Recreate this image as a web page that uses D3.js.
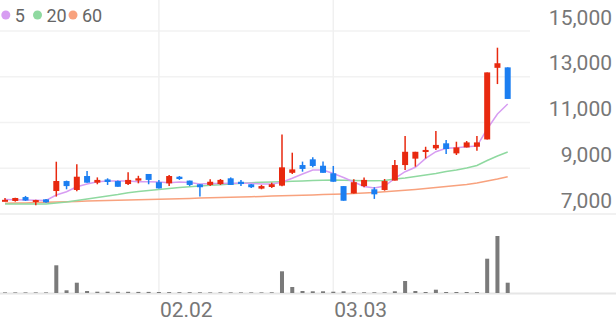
<!DOCTYPE html>
<html>
<head>
<meta charset="utf-8">
<script src="https://cdn.jsdelivr.net/npm/d3@7"></script>
<style>
  body { margin: 0; background: #fff; }
  svg { display: block; font-family: Roboto, sans-serif; }
</style>
</head>
<body>
<svg width="616" height="321"></svg>
<script>
// daily candles with moving averages and volume

// trading days
const dates = ["01.12","01.13","01.14","01.15","01.16","01.19","01.20","01.21","01.22","01.23",
  "01.26","01.27","01.28","01.29","01.30","02.02","02.03","02.04","02.05","02.06",
  "02.09","02.10","02.11","02.12","02.13","02.19","02.20","02.23","02.24","02.25",
  "02.26","02.27","03.03","03.04","03.05","03.06","03.09","03.10","03.11","03.12",
  "03.13","03.16","03.17","03.18","03.19","03.20","03.23","03.24","03.25","03.26"];

// ohlc prices
const open = [7560,7570,7740,7570,7640,8005,8440,8050,8660,8370,
  8510,8440,8310,8460,8750,8390,8340,8630,8460,8300,
  8270,8310,8560,8410,8300,8110,8180,8240,8800,9140,
  9390,9110,8780,8220,7900,8220,8080,8050,8460,9140,
  9420,9710,9870,10090,9650,9910,9940,10260,13390,13410];
const high = [7700,7710,7790,7620,7660,9286,8460,9170,8880,8600,
  8560,8460,8820,8670,8750,8490,8700,8660,8460,8300,
  8520,8530,8600,8490,8310,8270,8370,10480,9680,9290,
  9480,9290,9100,8220,8520,8600,8170,8530,9360,10410,
  9720,9940,10630,10230,10160,10190,10410,13190,14270,13410];
const low = [7560,7540,7570,7380,7490,7760,8080,8000,8370,8300,
  8270,8190,8270,8340,8300,8120,8220,8490,8220,7760,
  8220,8270,8270,8220,8140,8080,8140,8210,8750,8850,
  9040,8800,8410,7580,7900,8170,7660,8020,8460,8920,
  9070,9430,9800,9620,9580,9910,9770,10260,12680,12030];
const close = [7620,7700,7590,7610,7510,8442,8220,8630,8370,8490,
  8400,8190,8490,8560,8490,8120,8660,8530,8270,8170,
  8410,8490,8270,8310,8170,8220,8300,9040,8950,8970,
  9100,8800,8410,7580,8390,8490,7860,8440,9140,9720,
  9720,9800,10020,9840,9910,10130,10130,13190,13590,12030];

// volume, thousand shares
const volume = [12,12,12,12,12,554,54,206,40,26,
  26,24,24,22,22,20,18,16,16,14,
  12,12,12,12,12,12,14,434,120,40,
  34,34,26,34,14,14,14,14,34,240,
  40,20,66,20,20,20,20,686,1140,206];

// moving averages
const ma5 = [7634,7625,7612,7599,7590,7830,7975,8193,8311,8412,
  8442,8442,8442,8412,8412,8398,8368,8398,8377,8311,
  8333,8333,8342,8342,8342,8311,8311,8385,8560,8748,
  8923,8923,8770,8595,8398,8202,8136,8224,8560,8849,
  9041,9434,9723,9871,9897,9941,9972,10715,11370,11807];
const ma20 = [7437,7437,7437,7437,7437,7481,7524,7590,7656,7721,
  7787,7852,7931,7983,8027,8071,8114,8158,8193,8224,
  8254,8280,8311,8342,8368,8385,8398,8412,8429,8442,
  8464,8477,8486,8477,8464,8455,8455,8464,8530,8573,
  8639,8704,8770,8857,8923,9010,9119,9338,9535,9709];
const ma60 = [7468,7476,7485,7498,7511,7524,7538,7551,7564,7577,
  7590,7603,7612,7625,7634,7647,7656,7669,7682,7695,
  7708,7721,7734,7743,7756,7769,7782,7795,7808,7822,
  7835,7848,7861,7878,7896,7918,7940,7970,8005,8040,
  8075,8114,8158,8202,8245,8294,8355,8442,8530,8630];

// axis ticks
const priceTicks = [7000, 9000, 11000, 13000, 15000];
const dateTicks = ["02.02", "03.03"];
const maNames = ["5", "20", "60"];
const maColors = ["#d79df2", "#8fd9a0", "#f8a27e"];

const width = 616;
const svg = d3.select("svg");

// scales
const x = d3.scalePoint().domain(dates).range([5, 507.7]);
const y = d3.scaleLinear().domain([7000, 15000]).range([214, 31]);
const yVol = d3.scaleLinear().domain([0, 1200]).range([293, 233]);

// grid lines
const grid = svg.append("g");
grid.selectAll(".hgrid")
  .data(priceTicks)
  .join("line")
  .attr("class", "hgrid")
  .attr("x1", 0)
  .attr("x2", (d) => (d === 7000 ? width : 530))
  .attr("y1", (d) => y(d))
  .attr("y2", (d) => y(d))
  .attr("stroke", (d) => (d === 7000 ? "#ececec" : "#f2f2f2"))
  .attr("stroke-width", 1.5);
grid.selectAll(".vgrid")
  .data(dateTicks)
  .join("line")
  .attr("class", "vgrid")
  .attr("x1", (d) => x(d))
  .attr("x2", (d) => x(d))
  .attr("y1", 0)
  .attr("y2", 293)
  .attr("stroke", "#f0f0f0")
  .attr("stroke-width", 1.5);
// volume base line
grid.append("line")
  .attr("x1", 0)
  .attr("x2", width)
  .attr("y1", 293.5)
  .attr("y2", 293.5)
  .attr("stroke", "#e6e6e6")
  .attr("stroke-width", 2);

// price labels
svg.append("g")
  .selectAll("text")
  .data(priceTicks)
  .join("text")
  .text((d) => d3.format(",")(d))
  .attr("x", 612)
  .attr("y", (d) => y(d) - 6.5)
  .attr("text-anchor", "end")
  .attr("fill", "#777")
  .attr("font-size", 21);

// date labels
svg.append("g")
  .selectAll("text")
  .data(dateTicks)
  .join("text")
  .text((d) => d)
  .attr("x", (d) => x(d) + 1)
  .attr("y", 317)
  .attr("fill", "#777")
  .attr("font-size", 21);

// moving average lines
const maData = [ma5, ma20, ma60];
const line = d3.line()
  .x((d, i) => x(dates[i]))
  .y((d) => y(d));
svg.append("g")
  .selectAll("path")
  .data(maData.slice().reverse())
  .join("path")
  .attr("d", line)
  .attr("fill", "none")
  .attr("stroke", (d, i) => maColors[2 - i])
  .attr("stroke-width", 1.5);

// candles
const candles = svg.append("g")
  .selectAll("g")
  .data(dates)
  .join("g")
  .attr("fill", (d, i) => (close[i] >= open[i] ? "#e8290f" : "#1b7ef1"))
  .attr("stroke", (d, i) => (close[i] >= open[i] ? "#e8290f" : "#1b7ef1"));
candles.append("line")
  .attr("x1", (d) => x(d))
  .attr("x2", (d) => x(d))
  .attr("y1", (d, i) => y(high[i]))
  .attr("y2", (d, i) => y(low[i]))
  .attr("stroke-width", 1.5);
candles.append("rect")
  .attr("x", (d) => x(d) - 3)
  .attr("width", 6)
  .attr("y", (d, i) => y(Math.max(open[i], close[i])))
  .attr("height", (d, i) => Math.max(2, Math.abs(y(open[i]) - y(close[i]))))
  .attr("stroke", "none");

// volume bars
svg.append("g")
  .selectAll("rect")
  .data(dates)
  .join("rect")
  .attr("x", (d) => x(d) - 2)
  .attr("width", 4)
  .attr("y", (d, i) => yVol(volume[i]))
  .attr("height", (d, i) => yVol(0) - yVol(volume[i]))
  .attr("fill", "#7a7a7a");

// legend
const legendX = [5.8, 37.5, 73];
const legend = svg.append("g")
  .selectAll("g")
  .data(maNames)
  .join("g")
  .attr("transform", (d, i) => `translate(${legendX[i]},15)`);
legend.append("circle")
  .attr("r", 4.5)
  .attr("fill", (d, i) => maColors[i]);
legend.append("text")
  .text((d) => d)
  .attr("x", 9)
  .attr("y", 6.5)
  .attr("fill", "#666")
  .attr("font-size", 18);
</script>
</body>
</html>
